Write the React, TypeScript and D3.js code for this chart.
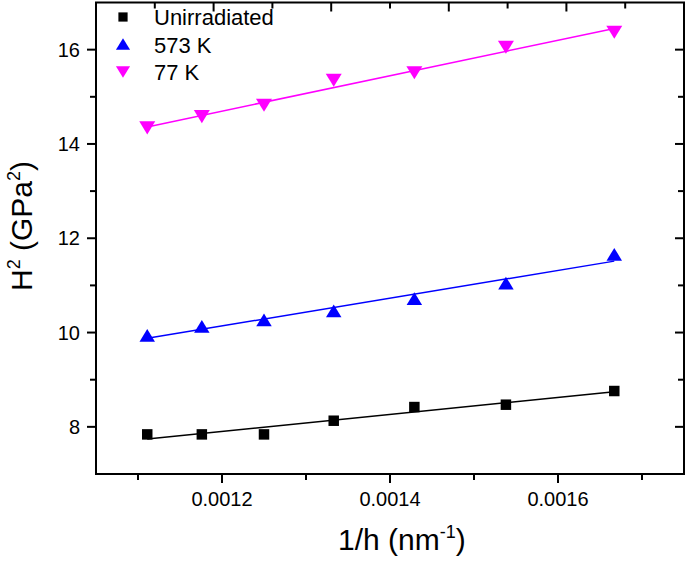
import React from 'react';
import * as d3 from 'd3';

// ---- data ----
const xValues = [0.001111, 0.001176, 0.00125, 0.001333, 0.001429, 0.001538, 0.001667];
const unirradiated = [7.84, 7.84, 7.84, 8.13, 8.42, 8.47, 8.76];
const k573 = [9.94, 10.13, 10.27, 10.46, 10.72, 11.05, 11.66];
const k77 = [14.34, 14.58, 14.82, 15.35, 15.51, 16.05, 16.37];
const seriesNames = ['Unirradiated', '573 K', '77 K'];
const seriesColors = ['#000000', '#0000ff', '#ff00ff'];

const xMajorTicks = [0.0012, 0.0014, 0.0016];
const xMinorTicks = [0.0011, 0.0013, 0.0015, 0.0017];
const yMajorTicks = [8, 10, 12, 14, 16];
const yMinorTicks = [9, 11, 13, 15];
const topTicks = [0.00112, 0.00119, 0.00126, 0.00133, 0.0014, 0.00147, 0.00154, 0.00161, 0.00168];

const W = 685;
const H = 564;
const FONT = '"Liberation Sans", Arial, Helvetica, sans-serif';

const x = d3.scaleLinear().domain([0.00105, 0.00175]).range([96, 684]);
const y = d3.scaleLinear().domain([7, 17]).range([474, 2.5]);

const triUp = {
  draw(ctx: any, size: number) {
    const w = Math.sqrt(size);
    const h = w * 0.82;
    ctx.moveTo(0, -h / 2);
    ctx.lineTo(w / 2, h / 2);
    ctx.lineTo(-w / 2, h / 2);
    ctx.closePath();
  },
};
const triDown = {
  draw(ctx: any, size: number) {
    const w = Math.sqrt(size);
    const h = w * 0.82;
    ctx.moveTo(0, h / 2);
    ctx.lineTo(w / 2, -h / 2);
    ctx.lineTo(-w / 2, -h / 2);
    ctx.closePath();
  },
};

const symbolTypes: any[] = [d3.symbolSquare, triUp, triDown];
const symbolSizes = [110, 240, 256];

function linFit(xs: number[], ys: number[]) {
  const mx = d3.mean(xs) as number;
  const my = d3.mean(ys) as number;
  let sxy = 0;
  let sxx = 0;
  xs.forEach((xv, i) => {
    sxy += (xv - mx) * (ys[i] - my);
    sxx += (xv - mx) * (xv - mx);
  });
  const b = sxy / sxx;
  const a = my - b * mx;
  return (xv: number) => a + b * xv;
}

export default function App() {
  const series = [unirradiated, k573, k77];
  const x0 = x.range()[0];
  const x1 = x.range()[1];
  const yb = y.range()[0];
  const yt = y.range()[1];
  const line = d3
    .line<[number, number]>()
    .x((d) => x(d[0]))
    .y((d) => y(d[1]));

  return (
    <svg
      width={W}
      height={H}
      style={{ position: 'absolute', left: 0, top: 0, background: '#fff' }}
      fontFamily={FONT}
    >
      <rect x={0} y={0} width={W} height={H} fill="#fff" />

      {/* fit lines */}
      {series.map((ys, i) => {
        const f = linFit(xValues, ys);
        const xa = xValues[0];
        const xb = xValues[xValues.length - 1];
        return (
          <path
            key={'fit' + i}
            d={line([
              [xa, f(xa)],
              [xb, f(xb)],
            ]) as string}
            fill="none"
            stroke={seriesColors[i]}
            strokeWidth={1.5}
          />
        );
      })}

      {/* markers */}
      {series.map((ys, i) =>
        ys.map((v, j) => (
          <path
            key={'m' + i + '-' + j}
            transform={`translate(${x(xValues[j])},${y(v)})`}
            d={d3.symbol().type(symbolTypes[i]).size(symbolSizes[i])() as string}
            fill={seriesColors[i]}
          />
        ))
      )}

      {/* frame */}
      <rect x={x0} y={yt} width={x1 - x0} height={yb - yt} fill="none" stroke="#000" strokeWidth={2} />

      {/* bottom ticks */}
      {xMajorTicks.map((t) => (
        <g key={'xt' + t}>
          <line x1={x(t)} x2={x(t)} y1={yb} y2={yb + 9} stroke="#000" strokeWidth={2} />
          <text x={x(t)} y={506} fontSize={20} textAnchor="middle" fill="#000">
            {t.toFixed(4)}
          </text>
        </g>
      ))}
      {xMinorTicks.map((t) => (
        <line key={'xm' + t} x1={x(t)} x2={x(t)} y1={yb} y2={yb + 6} stroke="#000" strokeWidth={2} />
      ))}

      {/* top ticks */}
      {topTicks.map((t, i) => (
        <line
          key={'tt' + t}
          x1={x(t)}
          x2={x(t)}
          y1={yt}
          y2={yt + (i % 2 === 1 ? 9 : 6)}
          stroke="#000"
          strokeWidth={2}
        />
      ))}

      {/* left ticks */}
      {yMajorTicks.map((t) => (
        <g key={'yt' + t}>
          <line x1={x0 - 9} x2={x0} y1={y(t)} y2={y(t)} stroke="#000" strokeWidth={2} />
          <text x={80} y={y(t)} dy="0.36em" fontSize={20} textAnchor="end" fill="#000">
            {t}
          </text>
          <line x1={x1 - 9} x2={x1} y1={y(t)} y2={y(t)} stroke="#000" strokeWidth={2} />
        </g>
      ))}
      {yMinorTicks.map((t) => (
        <g key={'ym' + t}>
          <line x1={x0 - 6} x2={x0} y1={y(t)} y2={y(t)} stroke="#000" strokeWidth={2} />
          <line x1={x1 - 6} x2={x1} y1={y(t)} y2={y(t)} stroke="#000" strokeWidth={2} />
        </g>
      ))}

      {/* legend */}
      {seriesNames.map((name, i) => (
        <g key={'lg' + i} transform={`translate(0,${i * 27.5})`}>
          <path
            transform={`translate(123,${i === 1 ? 16.5 : 17})`}
            d={d3.symbol().type(symbolTypes[i]).size(i === 0 ? 85 : 200)() as string}
            fill={seriesColors[i]}
          />
          <text x={154} y={25} fontSize={22} fill="#000">
            {name}
          </text>
        </g>
      ))}

      {/* x axis title */}
      <text x={338} y={550} fontSize={30} fill="#000">
        1/h (nm
        <tspan fontSize={18} dy={-12}>
          -1
        </tspan>
        <tspan dy={12}>)</tspan>
      </text>

      {/* y axis title */}
      <text transform="translate(32,226) rotate(-90)" fontSize={30} textAnchor="middle" fill="#000">
        H
        <tspan fontSize={18} dy={-12}>
          2
        </tspan>
        <tspan dy={12}> (GPa</tspan>
        <tspan fontSize={18} dy={-12}>
          2
        </tspan>
        <tspan dy={12}>)</tspan>
      </text>
    </svg>
  );
}
